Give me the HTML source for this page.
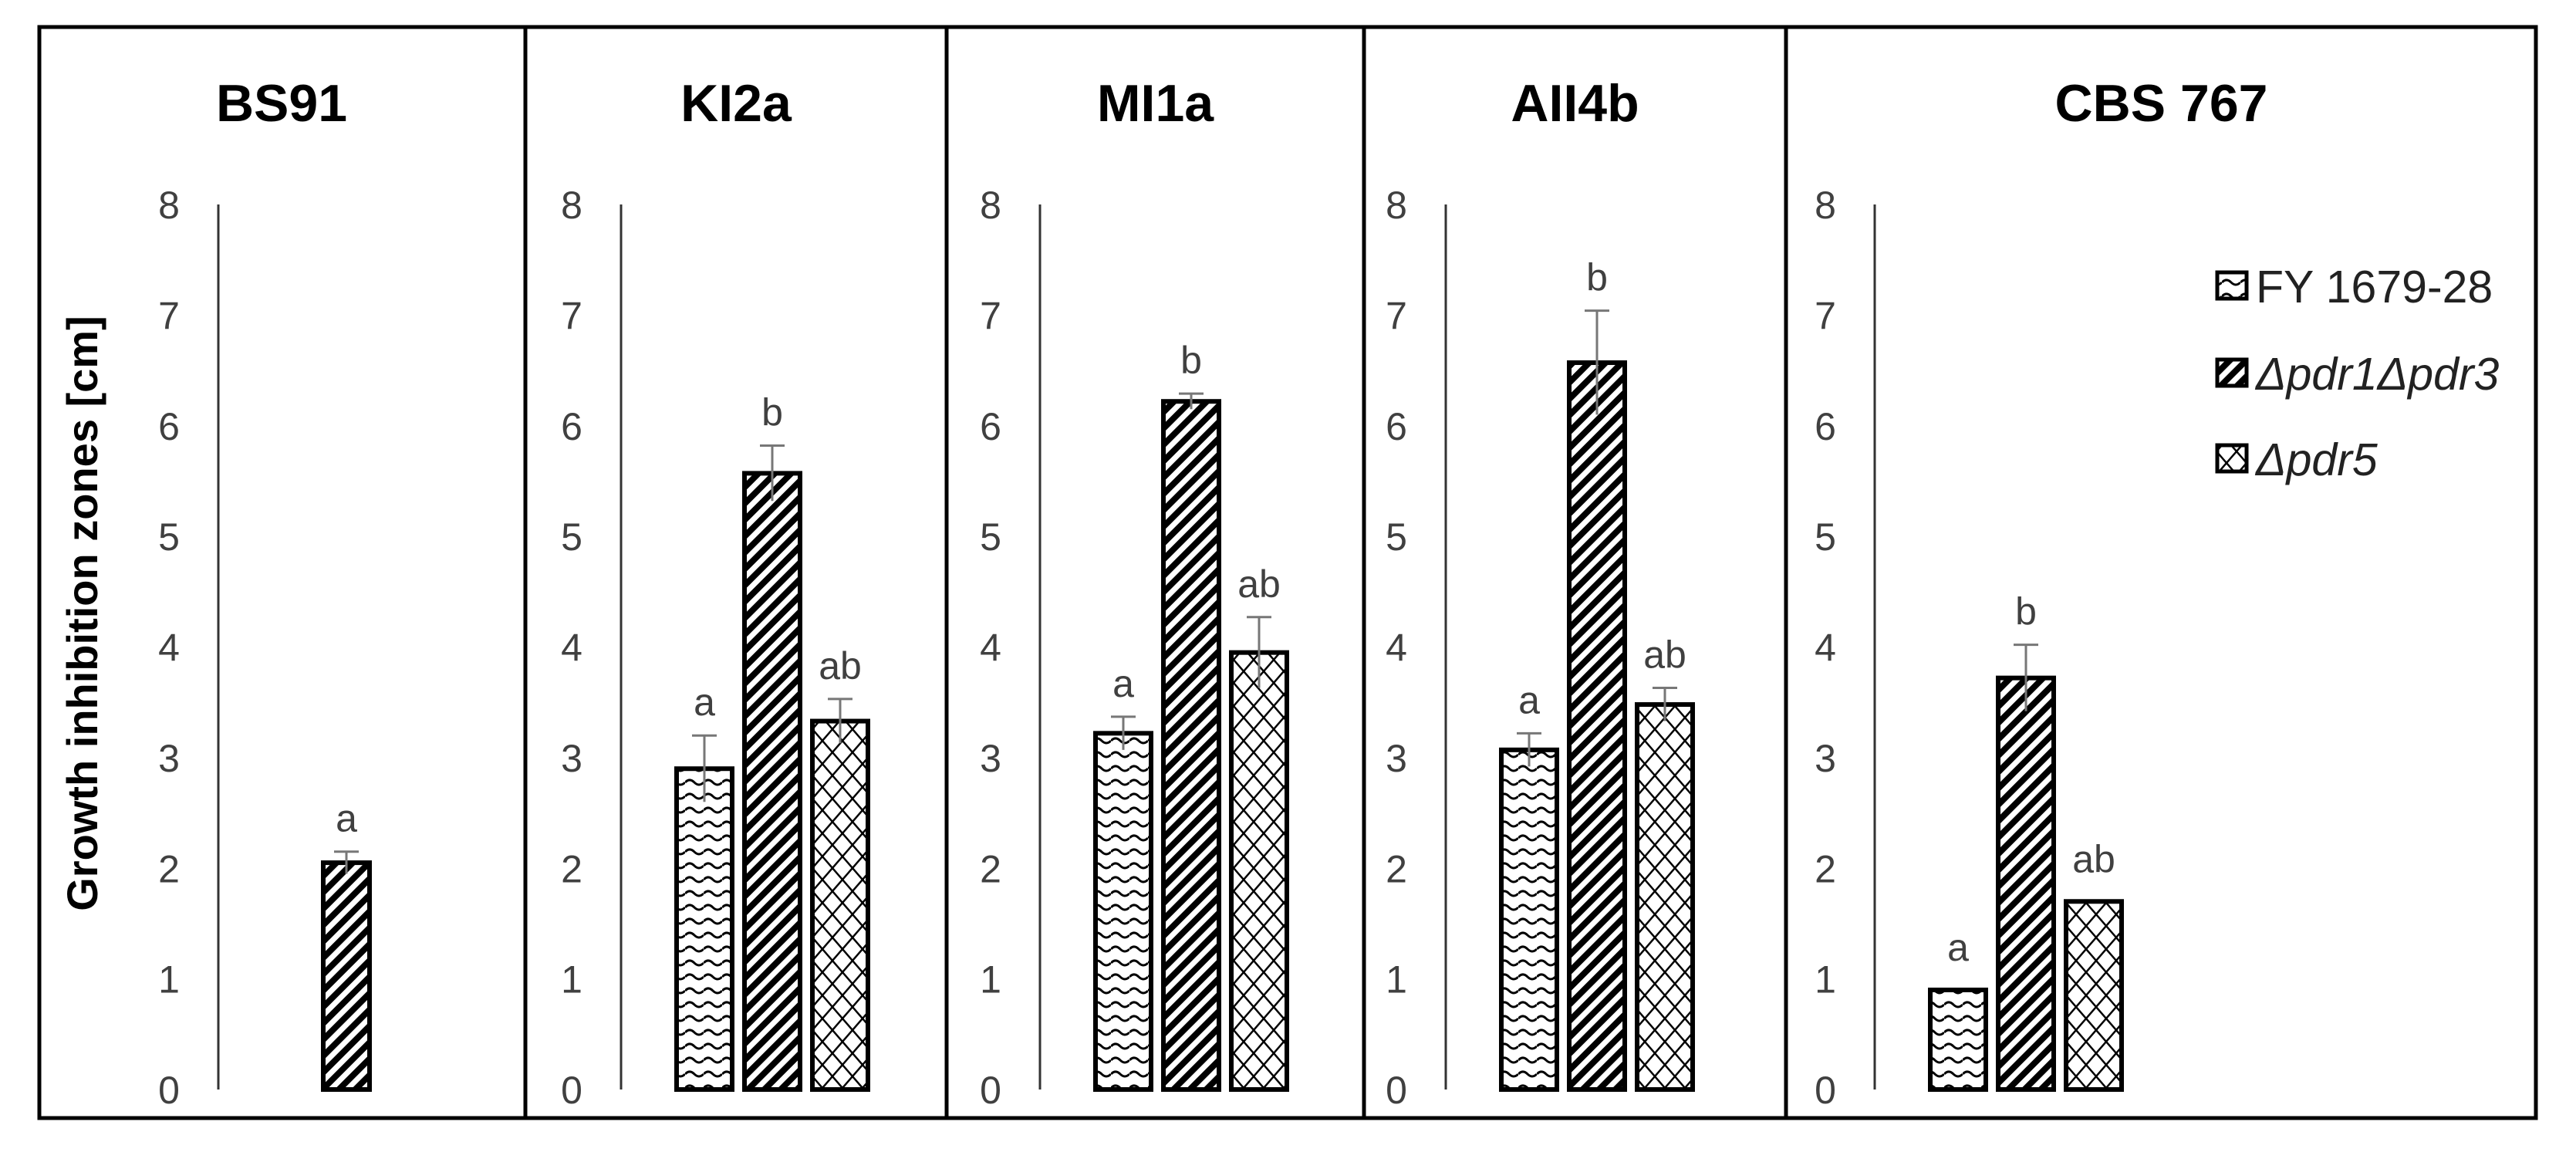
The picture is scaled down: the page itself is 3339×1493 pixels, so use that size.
<!DOCTYPE html>
<html><head><meta charset="utf-8"><style>
html,body{margin:0;padding:0;background:#fff}
svg{display:block}
text{font-family:"Liberation Sans",sans-serif}
</style></head><body>
<svg id="chart" xmlns="http://www.w3.org/2000/svg" width="3339" height="1493" viewBox="0 0 3339 1493">
<defs>
<pattern id="pWave" patternUnits="userSpaceOnUse" width="24" height="18">
<rect width="24" height="18" fill="#fff"/>
<path d="M0 6 Q6 0 12 6 T24 6" fill="none" stroke="#000" stroke-width="3"/>
</pattern>
<pattern id="pDiag" patternUnits="userSpaceOnUse" width="15" height="15" patternTransform="rotate(45)">
<rect width="15" height="15" fill="#fff"/>
<rect x="0" y="0" width="8" height="15" fill="#000"/>
</pattern>
<pattern id="pCross" patternUnits="userSpaceOnUse" width="26" height="30">
<rect width="26" height="30" fill="#fff"/>
<path d="M0 0 L26 30 M26 0 L0 30" stroke="#000" stroke-width="2.5"/>
</pattern>
</defs>
<g id="frame"></g>
<g id="plots"></g>
</svg>
<script>
const panels = ["BS91","KI2a","MI1a","AII4b","CBS 767"];
const seriesNames = ["FY 1679-28","Δpdr1Δpdr3","Δpdr5"];
const valFY = [null, 2.9, 3.22, 3.07, 0.9];
const valPdr13 = [2.05, 5.57, 6.22, 6.57, 3.72];
const valPdr5 = [null, 3.33, 3.95, 3.48, 1.7];
const errFY = [null, 0.3, 0.15, 0.15, 0];
const errPdr13 = [0.1, 0.25, 0.07, 0.47, 0.3];
const errPdr5 = [null, 0.2, 0.32, 0.15, 0];
const letFY = [null, "a","a","a","a"];
const letPdr13 = ["a","b","b","b","b"];
const letPdr5 = [null, "ab","ab","ab","ab"];
const yTicks = [0,1,2,3,4,5,6,7,8];

const NS="http://www.w3.org/2000/svg";
function mk(tag, attrs, parent, txt){const e=document.createElementNS(NS,tag);for(const k in attrs)e.setAttribute(k,attrs[k]);if(txt!==undefined)e.textContent=txt;parent.appendChild(e);return e;}
const y0=1412, y8=265;
function yS(v){return y0-(v/8)*(y0-y8);}
const frame=document.getElementById('frame');
const plots=document.getElementById('plots');
const bounds=[49,681,1227,1768,2315,3288];
const axisX=[283,805,1348,1874,2430];

let r=mk('rect',{x:51,y:35,width:3236,height:1414,fill:'none',stroke:'#000','stroke-width':5},frame);


for(let i=1;i<5;i++){
 const l=mk('line',{x1:bounds[i],x2:bounds[i],y1:35,y2:1449,stroke:'#000','stroke-width':5},frame);
 
 
}
const yt=mk('text',{x:0,y:0,transform:'translate(126,795) rotate(-90)','text-anchor':'middle','font-size':56,'font-weight':'bold',fill:'#000'},frame,'Growth inhibition zones [cm]');



const pats=['url(#pWave)','url(#pDiag)','url(#pCross)'];
const vals=[valFY,valPdr13,valPdr5], errs=[errFY,errPdr13,errPdr5], lets=[letFY,letPdr13,letPdr5];
panels.forEach((p,i)=>{
 const g=mk('g',{},plots);
 
 
 const cx=(bounds[i]+bounds[i+1])/2;
 const t=mk('text',{x:cx,y:157,'text-anchor':'middle','font-size':68,'font-weight':'bold',fill:'#000'},g,p);
 
 
 const ax=axisX[i];
 const al=mk('line',{x1:ax,x2:ax,y1:y8,y2:y0,stroke:'#333','stroke-width':3},g);
 
 
 yTicks.forEach(v=>{
  const tl=mk('text',{x:ax-64,y:yS(v)+18,'text-anchor':'middle','font-size':50,fill:'#404040'},g,String(v));
  
  
 });
 for(let s=0;s<3;s++){
  const v=vals[s][i]; if(v===null) continue;
  const w = i===0?60:72;
  const x = i===0? ax+136 : ax+72+s*88;
  const top=yS(v);
  const b=mk('rect',{x:x,y:top,width:w,height:y0-top,fill:pats[s],stroke:'#000','stroke-width':6},g);
  
  
  const e=errs[s][i]; const bx=x+w/2;
  let lt=top;
  if(e>0){
   const et=yS(v+e);
   const el=mk('path',{d:`M${bx} ${et} L${bx} ${yS(v-e)} M${bx-16} ${et} L${bx+16} ${et}`,stroke:'#777','stroke-width':3,fill:'none'},g);
   
   
   lt=et;
  } else lt=top-12;
  const lb=mk('text',{x:bx,y:lt-26,'text-anchor':'middle','font-size':50,fill:'#404040'},g,lets[s][i]);
  
  
 }
});
const lg=mk('g',{},plots);


const ly=[371,484,595];
seriesNames.forEach((n,s)=>{
 const sw=mk('rect',{x:2874,y:ly[s]-18,width:38,height:34,fill:pats[s],stroke:'#000','stroke-width':5},lg);
 
 
 const tx=mk('text',{x:2924,y:ly[s]+21,'font-size':59,fill:'#222','font-style':s===0?'normal':'italic'},lg,n);
 
 
});
</script>
</body></html>
